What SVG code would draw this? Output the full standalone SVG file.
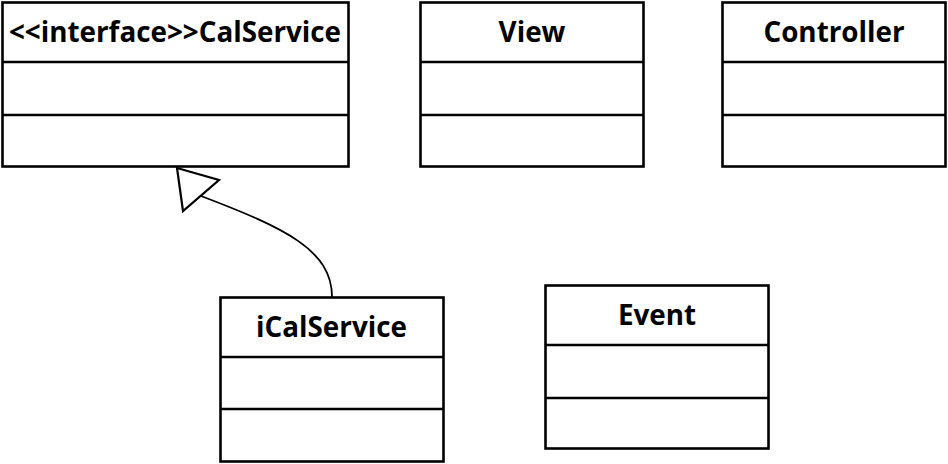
<svg xmlns="http://www.w3.org/2000/svg" width="948" height="464" viewBox="0 0 948 464">
<style>
.box{fill:#fff;stroke:#000;stroke-width:2.6}
.div{stroke:#000;stroke-width:2.6}
.t{font-family:"Open Sans","Noto Sans",sans-serif;font-weight:bold;font-size:27.8px;text-anchor:middle;fill:#000}
.conn{fill:none;stroke:#000;stroke-width:1.8}
</style>
<rect width="948" height="464" fill="#fff"/>
<g id="connectors">
<path class="conn" d="M332 297 C332 250 285 228 201 196"/>
<polygon points="177,168 219,180 183,211" fill="#fff" stroke="#000" stroke-width="2.2"/>
</g>
<g id="CalService">
<rect class="box" x="2.5" y="2.5" width="346" height="164"/>
<line class="div" x1="2.5" y1="62" x2="348.5" y2="62"/>
<line class="div" x1="2.5" y1="115" x2="348.5" y2="115"/>
<text class="t" x="175" y="42">&lt;&lt;interface&gt;&gt;CalService</text>
</g>
<g id="View">
<rect class="box" x="420.5" y="2.5" width="223" height="164"/>
<line class="div" x1="420.5" y1="62" x2="643.5" y2="62"/>
<line class="div" x1="420.5" y1="115" x2="643.5" y2="115"/>
<text class="t" x="532" y="42">View</text>
</g>
<g id="Controller">
<rect class="box" x="722.5" y="2.5" width="223" height="164"/>
<line class="div" x1="722.5" y1="62" x2="945.5" y2="62"/>
<line class="div" x1="722.5" y1="115" x2="945.5" y2="115"/>
<text class="t" x="834" y="42">Controller</text>
</g>
<g id="iCalService">
<rect class="box" x="220.5" y="297.5" width="223" height="164"/>
<line class="div" x1="220.5" y1="357" x2="443.5" y2="357"/>
<line class="div" x1="220.5" y1="409" x2="443.5" y2="409"/>
<text class="t" x="331.5" y="337">iCalService</text>
</g>
<g id="Event">
<rect class="box" x="545.5" y="285.5" width="223" height="163"/>
<line class="div" x1="545.5" y1="345" x2="768.5" y2="345"/>
<line class="div" x1="545.5" y1="398" x2="768.5" y2="398"/>
<text class="t" x="657" y="325">Event</text>
</g>
</svg>
